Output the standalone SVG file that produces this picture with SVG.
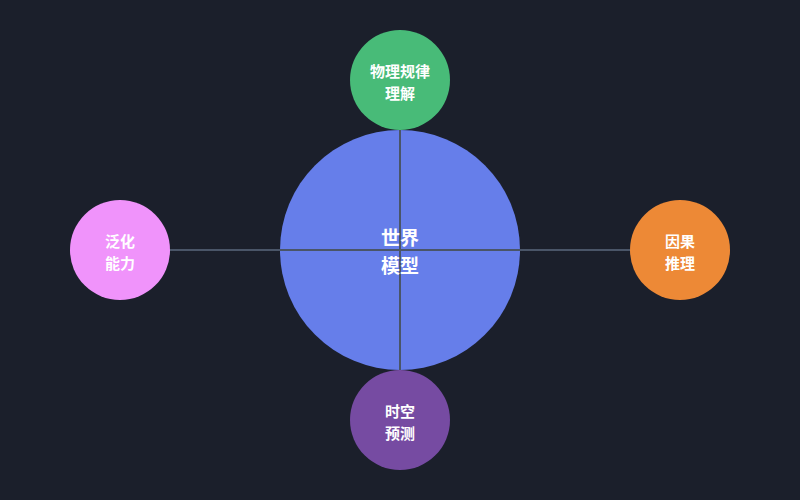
<svg xmlns="http://www.w3.org/2000/svg" width="800" height="500" viewBox="0 0 800 500">
<style>
.lbl{font-family:"Noto Sans CJK SC","Noto Sans",sans-serif;font-weight:bold;fill:#ffffff;text-anchor:middle}
.s{font-size:15px}
.c{font-size:19px}
.conn{stroke:#4a5568;stroke-width:2;fill:none}
</style>
<rect width="800" height="500" fill="#1b1f2b"/>
<g id="center-node"><circle cx="400" cy="250" r="120" fill="#667eea"/></g>
<g id="connectors">
<line class="conn" x1="400" y1="130" x2="400" y2="370"/>
<line class="conn" x1="170" y1="250" x2="630" y2="250"/>
</g>
<g id="node-top"><circle cx="400" cy="80" r="50" fill="#48bb78"/>
<text class="lbl s" x="400" y="77">物理规律</text><text class="lbl s" x="400" y="99">理解</text></g>
<g id="node-left"><circle cx="120" cy="250" r="50" fill="#f093fb"/>
<text class="lbl s" x="120" y="247">泛化</text><text class="lbl s" x="120" y="269">能力</text></g>
<g id="node-right"><circle cx="680" cy="250" r="50" fill="#ed8936"/>
<text class="lbl s" x="680" y="247">因果</text><text class="lbl s" x="680" y="269">推理</text></g>
<g id="node-bottom"><circle cx="400" cy="420" r="50" fill="#764ba2"/>
<text class="lbl s" x="400" y="417">时空</text><text class="lbl s" x="400" y="439">预测</text></g>
<g id="center-label"><text class="lbl c" x="400" y="245">世界</text><text class="lbl c" x="400" y="273">模型</text></g>
</svg>
